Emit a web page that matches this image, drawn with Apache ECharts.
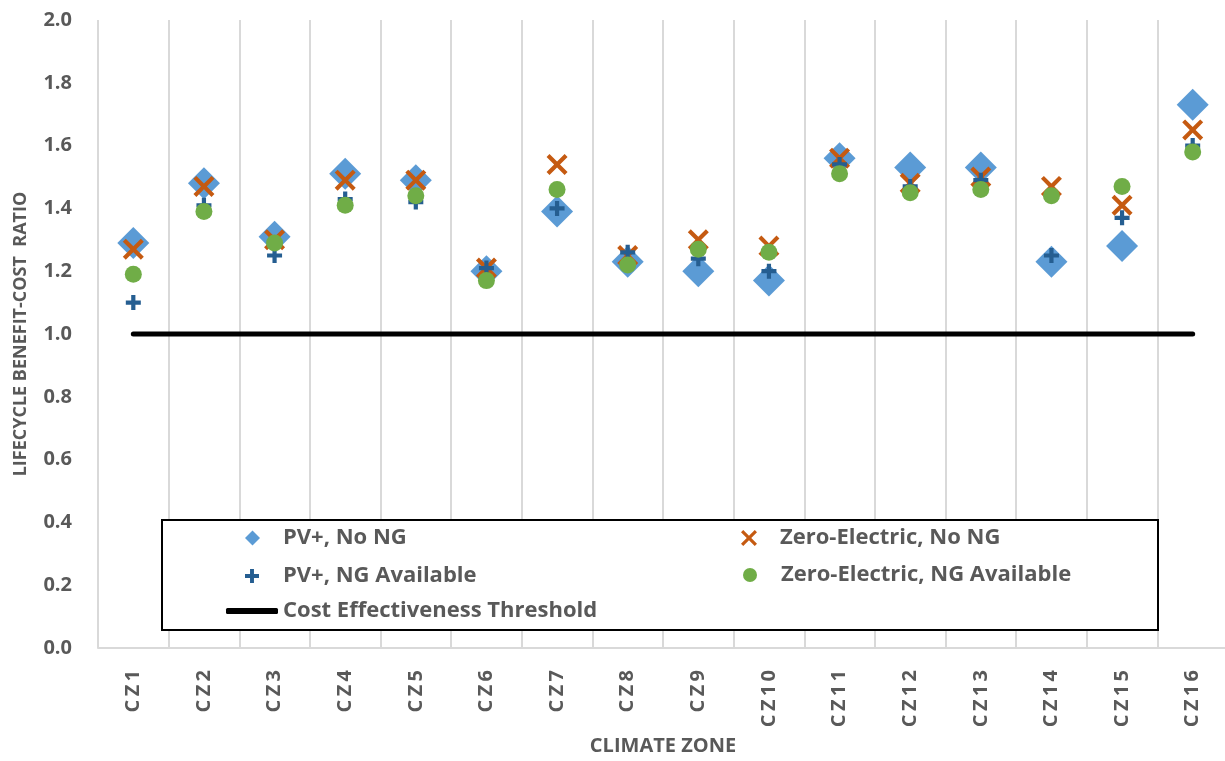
<!DOCTYPE html>
<html>
<head>
<meta charset="utf-8">
<script src="https://cdn.jsdelivr.net/npm/echarts@6/dist/echarts.min.js"></script>
<style>
  html, body { margin: 0; padding: 0; background: #fff; }
  #chart { width: 1225px; height: 761px; }
</style>
</head>
<body>
<div id="chart"></div>
<script>
  // climate zones and benefit-cost ratios
  const zones = ['CZ1', 'CZ2', 'CZ3', 'CZ4', 'CZ5', 'CZ6', 'CZ7', 'CZ8',
                 'CZ9', 'CZ10', 'CZ11', 'CZ12', 'CZ13', 'CZ14', 'CZ15', 'CZ16']
  const pvNoNG = [1.29, 1.48, 1.31, 1.51, 1.49, 1.20, 1.39, 1.23, 1.20, 1.17, 1.56, 1.53, 1.53, 1.23, 1.28, 1.73]
  const zeNoNG = [1.27, 1.47, 1.30, 1.49, 1.49, 1.21, 1.54, 1.25, 1.30, 1.28, 1.56, 1.48, 1.50, 1.47, 1.41, 1.65]
  const pvNG   = [1.10, 1.41, 1.25, 1.43, 1.42, 1.21, 1.40, 1.26, 1.24, 1.20, 1.54, 1.47, 1.49, 1.25, 1.37, 1.60]
  const zeNG   = [1.19, 1.39, 1.29, 1.41, 1.44, 1.17, 1.46, 1.22, 1.27, 1.26, 1.51, 1.45, 1.46, 1.44, 1.47, 1.58]
  const threshold = zones.map(() => 1.0)

  const names = ['PV+, No NG', 'Zero-Electric, No NG', 'PV+, NG Available',
                 'Zero-Electric, NG Available', 'Cost Effectiveness Threshold']

  const xIcon = 'path://M0,1.4 L1.4,0 L5,3.6 L8.6,0 L10,1.4 L6.4,5 L10,8.6 L8.6,10 L5,6.4 L1.4,10 L0,8.6 L3.6,5 Z'
  const plusIcon = 'path://M3.6,0 H6.4 V3.6 H10 V6.4 H6.4 V10 H3.6 V6.4 H0 V3.6 H3.6 Z'

  const gray = '#595959'
  const font = '"Open Sans", Lato, sans-serif'

  function legendItem(name, icon, left, centerY, w, h, pad) {
    return {
      data: [{ name: name, icon: icon }],
      left: left,
      top: centerY - 14,
      padding: 0,
      itemWidth: w,
      itemHeight: h,
      selectedMode: false,
      textStyle: {
        color: gray, fontFamily: font, fontWeight: 'bold', fontSize: 22,
        lineHeight: 28, padding: [0, 0, 0, pad]
      }
    }
  }

  const chart = echarts.init(document.getElementById('chart'))
  chart.setOption({
    animation: false,
    backgroundColor: '#fff',
    grid: { left: 98, right: -3, top: 20, bottom: 113, outerBoundsMode: 'none' },
    xAxis: {
      type: 'category',
      data: zones,
      boundaryGap: true,
      name: 'CLIMATE ZONE',
      nameLocation: 'middle',
      nameGap: 88,
      nameTextStyle: { color: gray, fontFamily: font, fontWeight: 'bold', fontSize: 20 },
      axisLine: { lineStyle: { color: '#d9d9d9', width: 2 } },
      axisTick: { show: false },
      splitLine: { show: true, lineStyle: { color: '#d9d9d9', width: 2 } },
      axisLabel: {
        rotate: 90, margin: 22, interval: 0,
        color: gray, fontFamily: font, fontWeight: 'bold', fontSize: 20,
        formatter: v => v.split('').join('\u2009')
      }
    },
    yAxis: {
      type: 'value',
      min: 0, max: 2, interval: 0.2,
      name: 'LIFECYCLE BENEFIT-COST  RATIO',
      nameLocation: 'middle',
      nameGap: 68,
      nameTextStyle: { color: gray, fontFamily: font, fontWeight: 'bold', fontSize: 18 },
      axisLine: { show: false },
      axisTick: { show: false },
      splitLine: { show: false },
      axisLabel: {
        margin: 26, color: gray, fontFamily: font, fontWeight: 'bold', fontSize: 20,
        formatter: v => v.toFixed(1)
      }
    },
    legend: [
      legendItem(names[0], 'diamond', 245, 538, 15, 15, 18),
      legendItem(names[1], xIcon, 741, 538, 16, 16, 18),
      legendItem(names[2], plusIcon, 245, 576, 14, 14, 19),
      legendItem(names[3], 'circle', 743, 575, 14, 14, 19),
      legendItem(names[4], 'roundRect', 226, 611, 52, 6, 0)
    ],
    graphic: [{
      type: 'rect',
      z: 1,
      shape: { x: 162, y: 520, width: 996, height: 110 },
      style: { fill: '#fff', stroke: '#000', lineWidth: 2 }
    }],
    series: [
      {
        name: names[0], type: 'scatter', data: pvNoNG,
        symbol: 'diamond', symbolSize: 32, z: 3,
        itemStyle: { color: '#5b9bd5', opacity: 1 }
      },
      {
        name: names[1], type: 'scatter', data: zeNoNG,
        symbol: xIcon, symbolSize: 21, z: 4,
        itemStyle: { color: '#c55a11', opacity: 1 }
      },
      {
        name: names[2], type: 'scatter', data: pvNG,
        symbol: plusIcon, symbolSize: 15, z: 5,
        itemStyle: { color: '#255e91', opacity: 1 }
      },
      {
        name: names[3], type: 'scatter', data: zeNG,
        symbol: 'circle', symbolSize: 17, z: 6,
        itemStyle: { color: '#70ad47', opacity: 1 }
      },
      {
        name: names[4], type: 'line', data: threshold,
        symbol: 'none', z: 2,
        itemStyle: { color: '#000' },
        lineStyle: { color: '#000', width: 5, cap: 'round' }
      }
    ]
  })
</script>
</body>
</html>
